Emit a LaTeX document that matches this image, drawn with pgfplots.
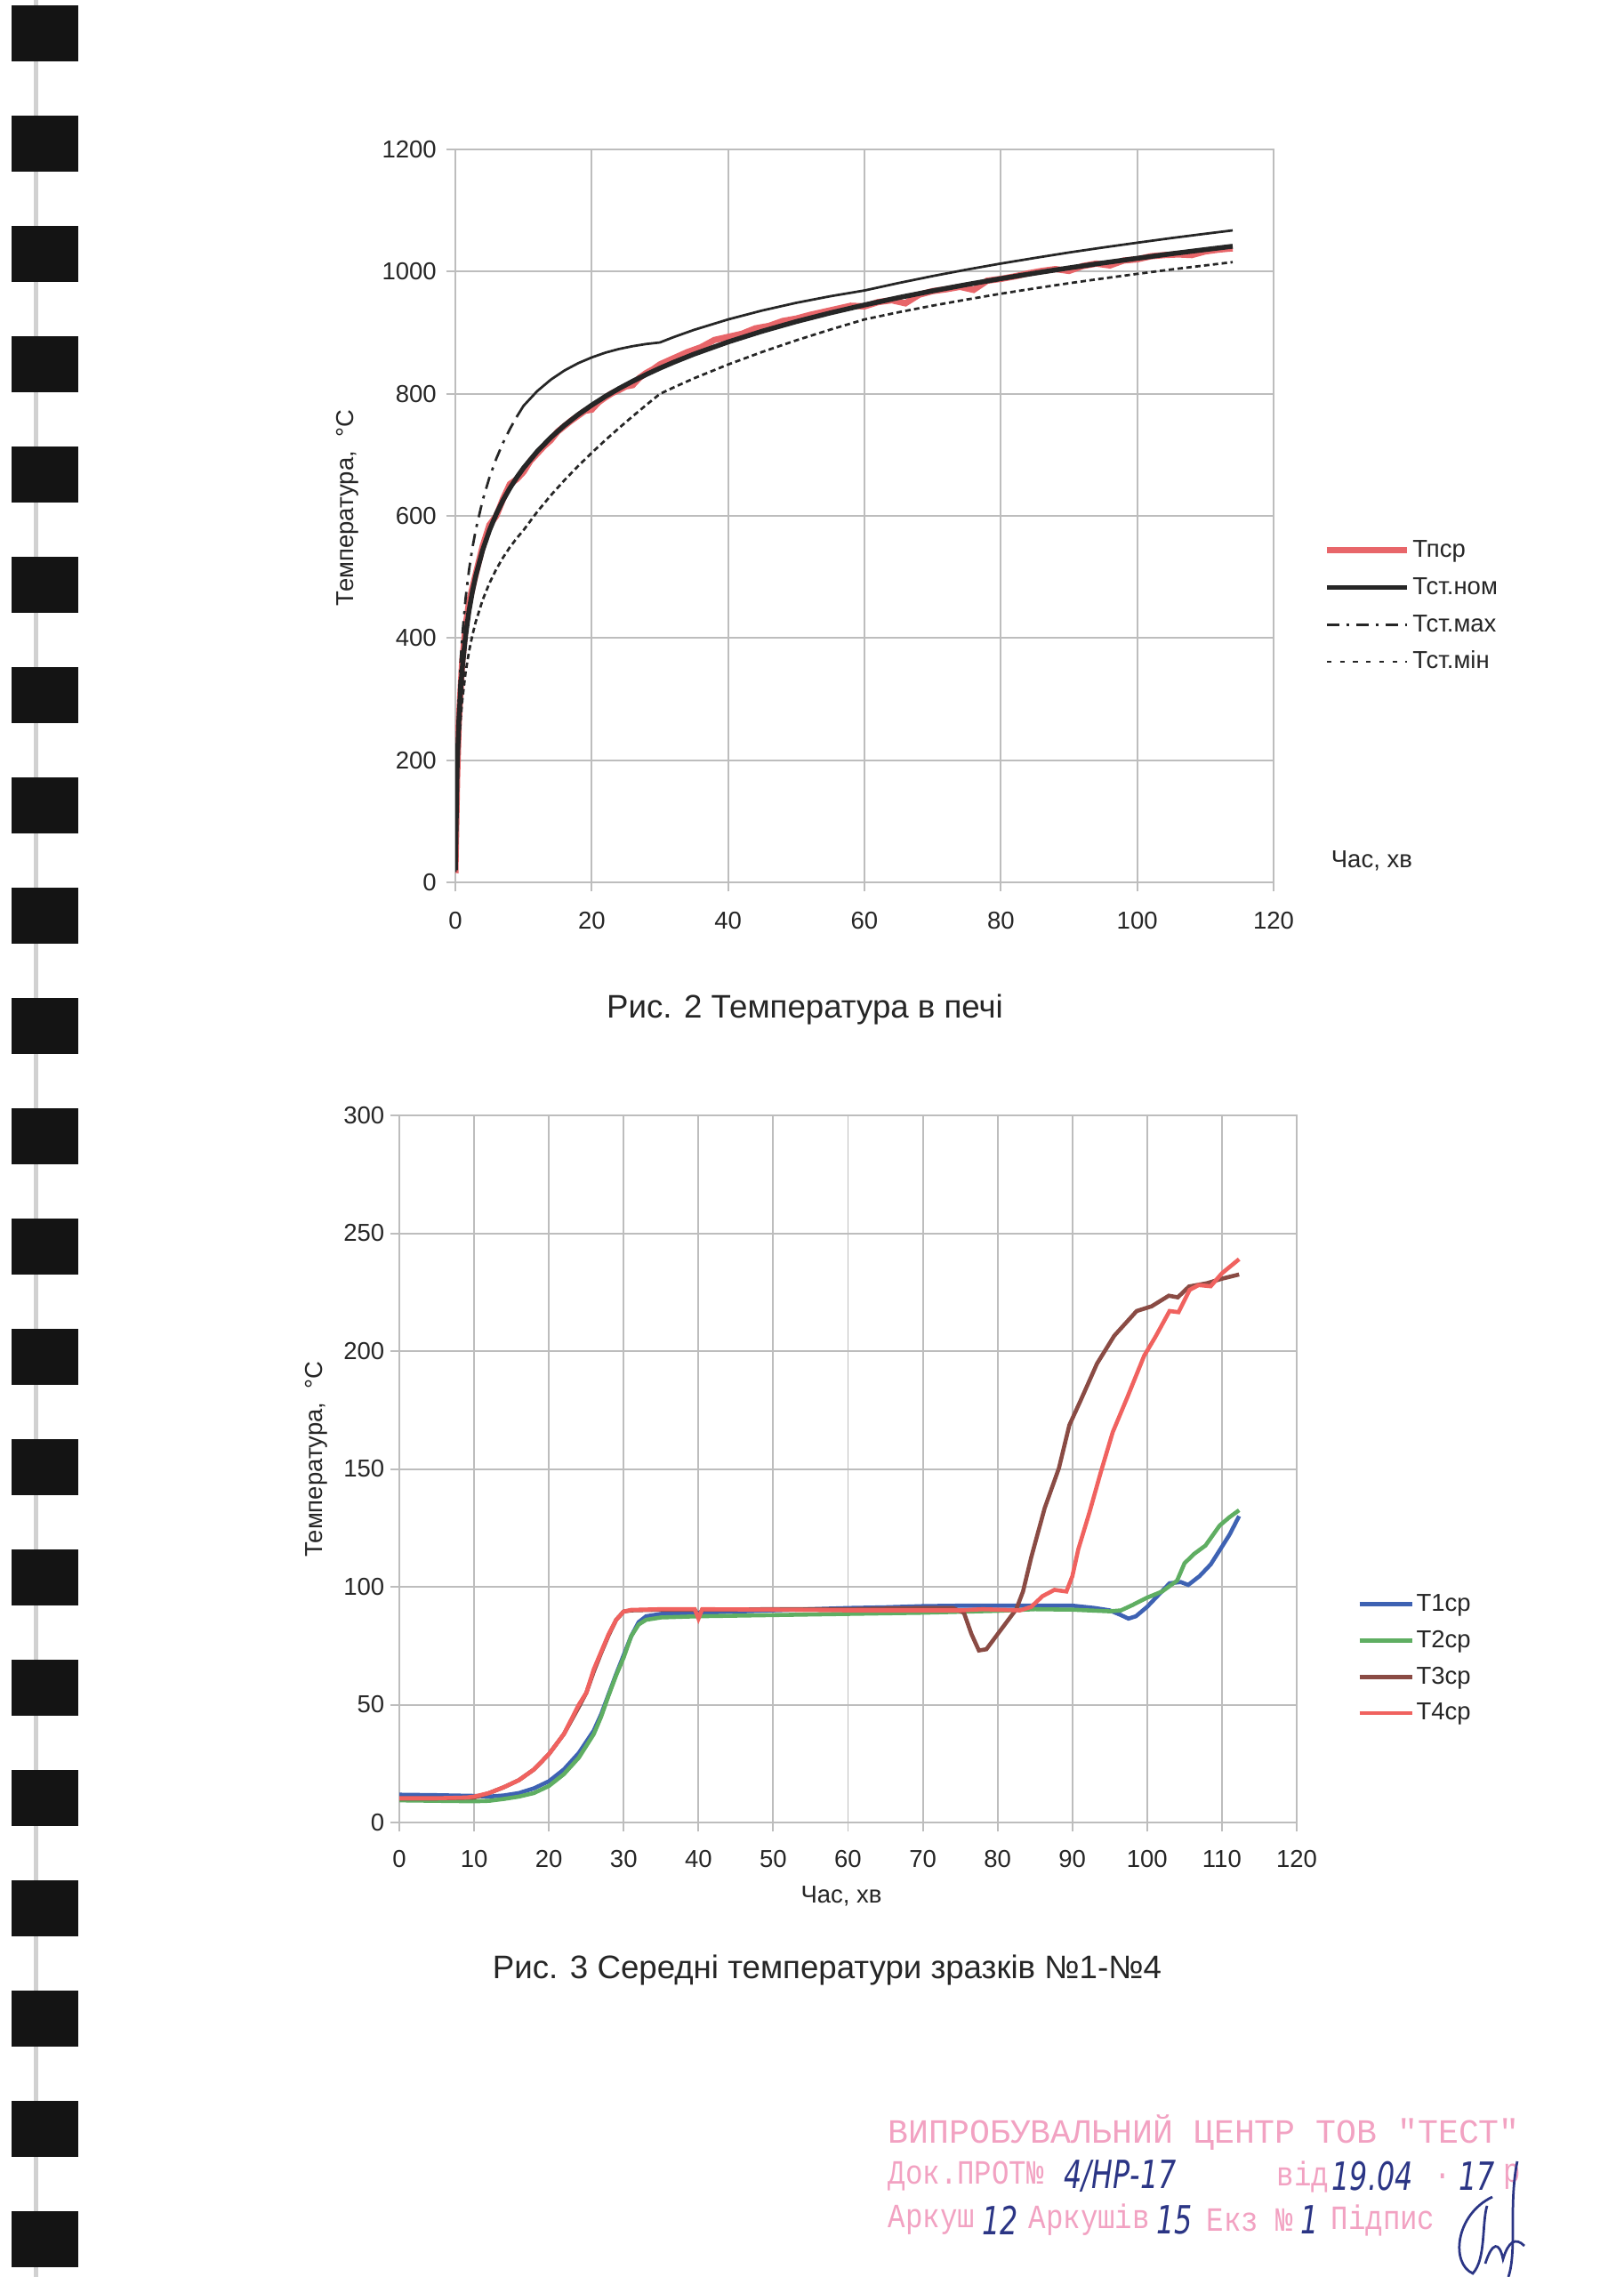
\documentclass[border=0pt]{standalone}
\usepackage{fontspec}
\setmainfont{Liberation Sans}
\newfontfamily\stampfont{Liberation Mono}
\newfontfamily\handfont{DejaVu Sans}
\usepackage{pgfplots}
\pgfplotsset{compat=1.18}
\definecolor{c1red}{HTML}{E8666A}
\definecolor{tone}{HTML}{3E62B3}
\definecolor{ttwo}{HTML}{5FAE62}
\definecolor{tthree}{HTML}{8A4B44}
\definecolor{tfour}{HTML}{F0625F}
\definecolor{gridc}{HTML}{BDBDBD}
\definecolor{stampc}{HTML}{F2A2C2}
\definecolor{inkc}{HTML}{2B3585}
\newcommand{\stp}[1]{\scalebox{0.85}[1]{\stampfont\fontsize{12.5}{14}\selectfont #1}}
\newcommand{\hnd}[1]{\scalebox{0.8}[1.1]{\handfont\itshape\fontsize{13}{15}\selectfont #1}}
\pgfplotsset{
  scanstyle/.style={
    scale only axis,
    axis line style={gridc, line width=0.65pt},
    grid=major,
    major grid style={gridc, line width=0.65pt},
    tick style={gridc, line width=0.65pt},
    tick align=outside,
    major tick length=1.2mm,
    xtick pos=bottom, ytick pos=left,
    ticklabel style={font=\fontsize{9}{10}\selectfont, text=black!85},
    /pgf/number format/assume math mode=true,
    /pgf/number format/1000 sep={},
    label style={font=\fontsize{9}{10}\selectfont, text=black!85},
    legend cell align=left,
    legend style={draw=none, fill=none, font=\fontsize{9}{10}\selectfont,
      nodes={inner sep=0.3mm, text height=2.5mm, text depth=0.7mm, text=black!85}, column sep=0pt},
  }
}
\begin{document}
\begin{tikzpicture}
\useasboundingbox (0,0) rectangle (210mm,-294.574mm);
\fill[white] (0,0) rectangle (210mm,-294.574mm);
\begin{scope}[x=0.115068mm,y=-0.115068mm]
  % binding
  \fill[black!18] (38,0) rectangle (43,2560);
  \foreach \k in {0,...,20}{
    \fill[black!92] (13,{6+124*\k}) rectangle (88,{69+124*\k});
  }
  % captions
  \node[font=\fontsize{12}{14}\selectfont, text=black!85] at (905,1135) {Рис. 2 Температура в печі};
  \node[font=\fontsize{12}{14}\selectfont, text=black!85] at (930,2215) {Рис. 3 Середні температури зразків №1-№4};
  % stamp
  \begin{scope}[every node/.style={inner sep=0pt, anchor=west}]
  \node[text=stampc, font=\stampfont\fontsize{12.5}{14}\selectfont] at (998,2398) {ВИПРОБУВАЛЬНИЙ ЦЕНТР ТОВ "ТЕСТ"};
  \node[text=stampc] at (998,2447) {\stp{Док.ПРОТ№}};
  \node[text=inkc] at (1196,2447) {\hnd{4/НР-17}};
  \node[text=stampc] at (1435,2447) {\stp{від}};
  \node[text=inkc] at (1497,2447) {\hnd{19.04}};
  \node[text=stampc] at (1612,2447) {\stp{.}};
  \node[text=inkc] at (1640,2447) {\hnd{17}};
  \node[text=stampc] at (1690,2447) {\stp{р}};
  \node[text=stampc] at (998,2496) {\stp{Аркуш}};
  \node[text=inkc] at (1104,2496) {\hnd{12}};
  \node[text=stampc] at (1156,2496) {\stp{Аркушів}};
  \node[text=inkc] at (1300,2496) {\hnd{15}};
  \node[text=stampc] at (1356,2496) {\stp{Екз №}};
  \node[text=inkc] at (1462,2496) {\hnd{1}};
  \node[text=stampc] at (1496,2496) {\stp{Підпис}};
  \end{scope}
  \draw[inkc, line width=0.9pt] (1706,2430) .. controls (1696,2480) and (1706,2530) .. (1696,2560);
  \draw[inkc, line width=0.9pt] (1678,2470) .. controls (1636,2490) and (1631,2545) .. (1656,2556) .. controls (1671,2540) and (1666,2500) .. (1672,2480);
  \draw[inkc, line width=0.9pt] (1670,2545) .. controls (1678,2520) and (1686,2520) .. (1690,2540) .. controls (1696,2520) and (1704,2515) .. (1714,2525);
\end{scope}

% ---------- Chart 1 ----------
\begin{axis}[scanstyle, at={(58.915mm,-114.147mm)}, anchor=south west,
  width=105.86mm, height=94.82mm,
  xmin=0, xmax=120, ymin=0, ymax=1200,
  xtick={0,20,...,120}, ytick={0,200,...,1200},
  xticklabel style={yshift=-1.4mm},
  yticklabel style={xshift=0mm},
  ylabel={Температура,\ \ °C},
  ylabel style={at={(axis description cs:-0.1315,0.511)}, anchor=center},
  xlabel={Час, хв},
  xlabel style={at={(axis description cs:1.12,0.029)}, anchor=center},
  legend style={at={(axis description cs:1.0506,0.481)}, anchor=north west, row sep=1.0mm},
  legend image code/.code={\draw[#1] (0mm,0mm) -- (10.4mm,0mm);},
]
\addplot[c1red, line width=2.3pt, forget plot] coordinates {
(0,15)(0.25,170)(0.5,262)(1,360)(1.5,418)(2,458)(2.5,482)(3,505)(4,550)(5,585)(6,600)(7,628)(8,652)(9,660)(10,672)(11,690)(12,702)(13,714)(14,724)(15,738)(16,747)(17,756)(18,764)(19,772)(20,774)(21,786)(22,794)(23,801)(24,806)(25,812)(26,814)(27,826)(28,834)(29,840)(30,848)(32,858)(34,868)(36,876)(38,888)(40,893)(42,898)(44,907)(46,911)(48,919)(50,923)(52,929)(54,934)(56,939)(58,944)(60,943)(62,950)(64,953)(66,948)(68,962)(70,968)(72,971)(74,975)(76,970)(78,985)(80,988)(82,992)(84,997)(86,1001)(88,1004)(90,1001)(92,1009)(94,1013)(96,1010)(98,1018)(100,1020)(102,1025)(104,1027)(106,1028)(108,1027)(110,1033)(112,1036)(114,1038)};
\addplot[black!85, line width=1.8pt, forget plot] coordinates {
(0,20)(0.25,184.6)(0.5,261.2)(0.75,311.6)(1,349.2)(1.5,404.3)(2,444.5)(2.5,476.2)(3,502.3)(4,543.9)(5,576.4)(6,603.1)(7,625.8)(8,645.5)(9,662.8)(10,678.4)(12,705.4)(14,728.3)(16,748.2)(18,765.7)(20,781.3)(22,795.6)(24,808.5)(26,820.4)(28,831.5)(30,841.8)(32,851.4)(35,864.8)(40,884.7)(45,902.3)(50,918.1)(55,932.3)(60,945.3)(65,957.3)(70,968.4)(75,978.7)(80,988.4)(85,997.4)(90,1006.0)(95,1014.1)(100,1021.7)(105,1029.1)(110,1036.0)(114,1041.4)};
\addplot[black!85, line width=0.9pt, dash pattern=on 1.6mm off 0.9mm on 0.4mm off 0.9mm, forget plot] coordinates {
(0,23)(0.25,212.3)(0.5,300.4)(0.75,358.3)(1,401.6)(1.5,464.9)(2,511.2)(2.5,547.6)(3,577.6)(4,625.5)(5,662.9)(6,693.6)(7,719.7)(8,742.3)(9,762.2)};
\addplot[black!85, line width=0.9pt, forget plot] coordinates {
(9,762.2)(10,780.2)(12,804.2)(14,823.0)(16,838.0)(18,849.9)(20,859.4)(22,867.2)(24,873.2)(26,877.8)(28,881.4)(30,883.9)(32,892.6)(35,904.5)(40,921.6)(45,936.2)(50,948.8)(55,959.6)(60,969.0)(65,981.2)(70,992.6)(75,1003.2)(80,1013.1)(85,1022.3)(90,1031.2)(95,1039.4)(100,1047.2)(105,1054.8)(110,1061.9)(114,1067.4)};
\addplot[black!85, line width=0.9pt, dash pattern=on 0.7mm off 0.45mm, forget plot] coordinates {
(0,17)(0.25,156.9)(0.5,222.0)(0.75,264.9)(1,296.8)(1.5,343.7)(2,377.8)(2.5,404.8)(3,427.0)(4,462.3)(5,489.9)(6,512.6)(7,531.9)(8,548.7)(9,563.4)(10,576.6)(12,606.6)(14,633.6)(16,658.4)(18,681.5)(20,703.2)(22,724.0)(24,743.8)(26,763.0)(28,781.6)(30,799.7)(32,810.2)(35,825.2)(40,847.8)(45,868.4)(50,887.4)(55,905.0)(60,921.6)(65,933.4)(70,944.2)(75,954.2)(80,963.7)(85,972.5)(90,980.9)(95,988.7)(100,996.2)(105,1003.4)(110,1010.1)(114,1015.4)};
\addlegendimage{c1red, line width=2.3pt}
\addlegendentry{Тпср}
\addlegendimage{black!85, line width=1.8pt}
\addlegendentry{Тст.ном}
\addlegendimage{black!85, line width=0.9pt, dash pattern=on 1.6mm off 0.9mm on 0.4mm off 0.9mm}
\addlegendentry{Тст.мах}
\addlegendimage{black!85, line width=0.9pt, dash pattern=on 0.6mm off 1.1mm}
\addlegendentry{Тст.мін}
\end{axis}

% ---------- Chart 2 ----------
\begin{axis}[scanstyle, at={(51.666mm,-235.774mm)}, anchor=south west,
  width=116.10mm, height=91.48mm,
  xmin=0, xmax=120, ymin=0, ymax=300,
  xtick={0,10,...,120}, ytick={0,50,...,300},
  xticklabel style={yshift=-1.2mm},
  yticklabel style={xshift=0.5mm},
  ylabel={Температура,\ \ °C},
  ylabel style={at={(axis description cs:-0.0922,0.514)}, anchor=center},
  xlabel={Час, хв},
  xlabel style={at={(axis description cs:0.4926,-0.1044)}, anchor=center},
  legend style={at={(axis description cs:1.058,0.338)}, anchor=north west, row sep=0.9mm},
  legend image code/.code={\draw[#1] (0mm,0mm) -- (6.8mm,0mm);},
  every axis plot/.append style={line width=1.5pt},
]
\addplot[tone] coordinates {
(0,11.8)(5,11.6)(10,11.3)(12,11.0)(14,11.5)(16,12.5)(18,14.5)(20,17.5)(22,22.5)(24,29.5)(26,39)(27,46)(28,54.5)(29,63)(30,71)(31,79)(32,85)(33,87.5)(35,88.5)(40,89)(45,89.5)(50,90)(55,90.5)(60,91)(65,91.3)(70,91.8)(75,92)(80,92)(85,92)(90,92)(93,91)(95,90)(96.5,88)(97.5,86.5)(98.5,87.5)(100,91.5)(101.5,96.5)(103,101.5)(104.5,102)(105.5,100.8)(107,104.5)(108.5,109.5)(110,117)(111,122)(112.3,130)};
\addlegendentry{Т1ср}
\addplot[ttwo] coordinates {
(0,9.4)(5,9.2)(10,9)(12,9.2)(14,10)(16,11)(18,12.5)(20,15.5)(22,20.5)(24,27.5)(26,37.5)(27,45)(28,54)(29,62.5)(30,70)(31,79)(32,84)(33,86)(35,87)(40,87.5)(50,88)(60,88.5)(70,89)(80,89.8)(85,90.5)(90,90.3)(95,89.6)(96.5,90)(98,92.2)(100,95.4)(102,98)(104,102.6)(105,110)(106.3,114)(107.8,117.5)(109.7,126)(111,129.5)(112.3,132.5)};
\addlegendentry{Т2ср}
\addplot[tthree] coordinates {
(0,10.2)(5,10.2)(10,10.6)(12,12.5)(14,15)(16,18)(18,22.5)(20,29)(22,37.5)(24,49)(25,55)(26,64)(27,72)(28,79.5)(29,86)(30,89.5)(31,90)(35,90.3)(39.5,90.3)(40,87.5)(40.5,90.3)(50,90.5)(60,90.5)(70,91)(74,91)(75.5,89)(76.5,80)(77.5,73)(78.5,73.5)(80.5,82)(82.5,90.5)(83.4,98)(84.5,112.5)(86.3,133.4)(88.2,150.3)(89.6,168.6)(91.1,179)(93.3,194.7)(95.6,206.5)(98.6,217)(100.6,219)(102.9,223.5)(104.1,222.8)(105.6,227.4)(108,228.8)(110,230.7)(112.3,232.5)};
\addlegendentry{Т3ср}
\addplot[tfour] coordinates {
(0,10.3)(5,10.3)(9,10.6)(10,11)(12,12.5)(14,15)(16,18)(18,22.5)(20,29)(22,37.5)(24,50)(25,55)(26,65)(27,72.5)(28,80)(29,86)(30,89.5)(31,90.2)(35,90.5)(39.5,90.5)(40,86.5)(40.5,90.5)(50,90.3)(60,90)(70,90)(75,90)(78,90.5)(83,90)(84.5,91.5)(86,96)(87.6,98.7)(89.2,98)(90,104.5)(90.8,116)(92.3,131.7)(93.8,148.6)(95.4,165.6)(97.3,180)(99.6,198)(101.1,206)(103,217)(104.2,216.5)(105.7,226)(106.9,228)(108.5,227.5)(110,233)(112.3,239)};
\addlegendentry{Т4ср}
\end{axis}
\end{tikzpicture}
\end{document}
